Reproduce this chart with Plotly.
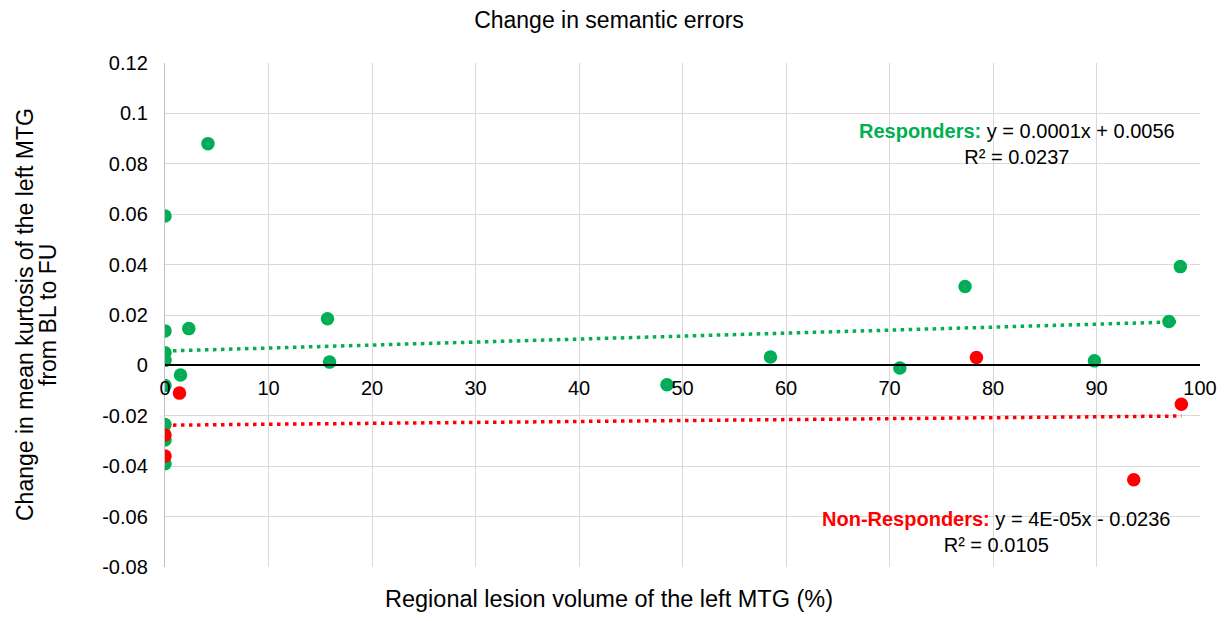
import numpy as np
import plotly.graph_objects as go

# ---- data ----
resp_x = [4.15, 0.0, 0.0, 2.3, 15.7, 15.9, 0.0, 0.0, 1.5, 0.0, 0.0, 0.0, 0.0,
          48.5, 58.5, 71.0, 77.3, 97.0, 98.1, 89.8]
resp_y = [0.088, 0.0593, 0.0137, 0.0146, 0.0185, 0.0013, 0.005, 0.002, -0.0038,
          -0.008, -0.0235, -0.0296, -0.039, -0.0077, 0.0033, -0.001, 0.0313,
          0.0174, 0.0392, 0.0018]
nonresp_x = [1.4, 0.0, 0.0, 78.4, 93.6, 98.2]
nonresp_y = [-0.011, -0.0276, -0.036, 0.0031, -0.0454, -0.0154]

x_ticks = [0, 10, 20, 30, 40, 50, 60, 70, 80, 90, 100]
y_ticks = [0.12, 0.1, 0.08, 0.06, 0.04, 0.02, 0, -0.02, -0.04, -0.06, -0.08]
y_tick_labels = ["0.12", "0.1", "0.08", "0.06", "0.04", "0.02", "0",
                 "-0.02", "-0.04", "-0.06", "-0.08"]
y_title_lines = ["Change in mean kurtosis of the left MTG", "from BL to FU"]

GREEN = "#00B050"
RED = "#FF0000"
FONT = "Liberation Sans, Arial, sans-serif"

# page body has an 8px margin; size the figure so it fits the 1225x621 window
W, H = 1209, 605


def trend(xs, ys):
    b, a = np.polyfit(xs, ys, 1)
    tx = np.array([min(xs), max(xs)])
    return tx, a + b * tx


fig = go.Figure()

gx, gy = trend(resp_x, resp_y)
rx, ry = trend(nonresp_x, nonresp_y)

fig.add_trace(go.Scatter(x=gx, y=gy, mode="lines",
                         line=dict(color=GREEN, width=3.5, dash="3.5px,4.5px"),
                         hoverinfo="skip"))
fig.add_trace(go.Scatter(x=rx, y=ry, mode="lines",
                         line=dict(color=RED, width=3.5, dash="3.5px,4.5px"),
                         hoverinfo="skip"))

fig.add_trace(go.Scatter(x=resp_x, y=resp_y, mode="markers", name="Responders",
                         marker=dict(color=GREEN, size=13.5)))
fig.add_trace(go.Scatter(x=resp_x, y=resp_y, mode="markers",
                         marker=dict(color="#5B7FC7", size=2.5),
                         hoverinfo="skip"))
fig.add_trace(go.Scatter(x=nonresp_x, y=nonresp_y, mode="markers",
                         name="Non-Responders",
                         marker=dict(color=RED, size=13.5)))

fig.update_layout(
    width=W, height=H,
    margin=dict(l=157, r=17, t=55, b=46, autoexpand=False),
    paper_bgcolor="white", plot_bgcolor="white",
    showlegend=False,
    font=dict(family=FONT, size=20, color="black"),
    title=dict(text="Change in semantic errors", x=601 / W, xanchor="center",
               y=1 - 12 / H, yanchor="middle", yref="container",
               font=dict(size=23, family=FONT, color="black")),
    xaxis=dict(range=[0, 100], tickvals=x_ticks, showgrid=True,
               gridcolor="#D9D9D9", gridwidth=1.4, zeroline=False,
               showline=True, linecolor="black", linewidth=1.6,
               anchor="free", position=0.4, ticks="", ticklabelstandoff=5,
               automargin=False, tickfont=dict(size=20, family=FONT)),
    yaxis=dict(range=[-0.08, 0.12], tickvals=y_ticks, ticktext=y_tick_labels,
               showgrid=True, gridcolor="#D9D9D9", gridwidth=1.4,
               zeroline=False, showline=True, linecolor="#BFBFBF",
               linewidth=1.4, ticks="", ticklabelstandoff=12,
               automargin=False,
               tickfont=dict(size=20, family=FONT), domain=[0, 1]),
)

# two-line y title as separate rotated lines (tighter line spacing, like the reference)
for line, cx in zip(y_title_lines, [25, 48]):
    fig.add_annotation(
        text=line, xref="paper", yref="paper", x=(cx - 165) / 1035, y=0.5,
        textangle=-90, showarrow=False, xanchor="center", yanchor="middle",
        font=dict(size=23, family=FONT))

fig.add_annotation(
    text="Regional lesion volume of the left MTG (%)",
    xref="paper", yref="paper", x=(608.5 - 165) / 1035, y=-(599 - 567) / 504,
    showarrow=False, xanchor="center", yanchor="middle",
    font=dict(size=23.5, family=FONT))

fig.add_annotation(
    text=f"<b><span style='color:{GREEN}'>Responders:</span></b> y = 0.0001x + 0.0056<br>R² = 0.0237",
    xref="x", yref="y", x=82.3, y=0.0879, showarrow=False, align="center",
    xanchor="center", yanchor="middle", font=dict(size=20, family=FONT))
fig.add_annotation(
    text=f"<b><span style='color:{RED}'>Non-Responders:</span></b> y = 4E-05x - 0.0236<br>R² = 0.0105",
    xref="x", yref="y", x=80.3, y=-0.0661, showarrow=False, align="center",
    xanchor="center", yanchor="middle", font=dict(size=20, family=FONT))

fig.write_html("out.html")
